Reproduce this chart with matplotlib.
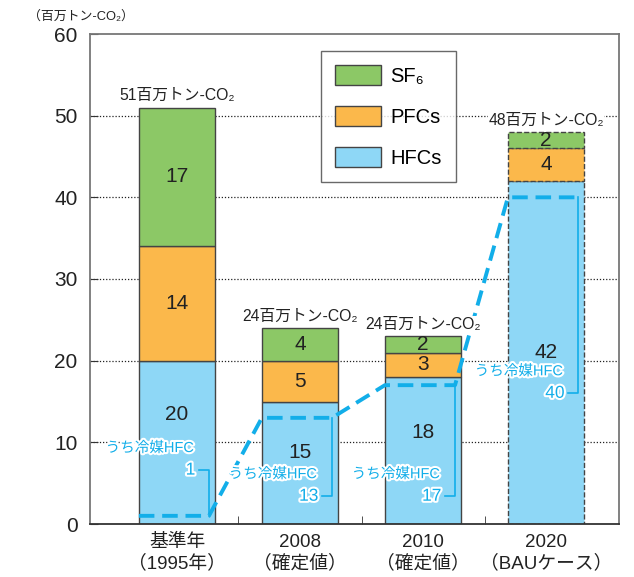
import matplotlib
matplotlib.use("Agg")
from matplotlib import pyplot as plt
from matplotlib.patches import Patch
import matplotlib.patheffects as pe
import numpy as np

plt.rcParams['font.family'] = ['Liberation Sans', 'Noto Sans CJK JP', 'DejaVu Sans']

# data
categories = ['基準年\n（1995年）', '2008\n（確定値）', '2010\n（確定値）', '2020\n（BAUケース）']
hfcs = [20, 15, 18, 42]
pfcs = [14, 5, 3, 4]
sf6 = [17, 4, 2, 2]
total_labels = ['51百万トン-CO₂', '24百万トン-CO₂', '24百万トン-CO₂', '48百万トン-CO₂']
refrig_hfc = [1, 13, 17, 40]

# colours
c_sf6 = '#8cc866'
c_pfc = '#fbb84b'
c_hfc = '#8ed7f6'
c_line = '#12aee9'
c_edge = '#444444'

fig = plt.figure(figsize=(6.34, 5.77), dpi=100)
ax = fig.add_axes([90/634, 1-524/577, (619-90)/634, (524-34)/577])

x = np.arange(len(categories))
width = 0.62

# grid lines
for g in [10, 20, 30, 40, 50]:
    ax.axhline(g, color='#222222', lw=0.9, ls=(0, (1, 1.5)), zorder=0)

hfcs_a = np.array(hfcs)
pfcs_a = np.array(pfcs)
sf6_a = np.array(sf6)
totals = hfcs_a + pfcs_a + sf6_a

for i in range(len(x)):
    ls = '--' if i == 3 else '-'
    ax.bar(x[i], hfcs_a[i], width, color=c_hfc, edgecolor=c_edge, lw=1.0, ls=ls, zorder=2)
    ax.bar(x[i], pfcs_a[i], width, bottom=hfcs_a[i], color=c_pfc, edgecolor=c_edge, lw=1.0, ls=ls, zorder=2)
    ax.bar(x[i], sf6_a[i], width, bottom=hfcs_a[i]+pfcs_a[i], color=c_sf6, edgecolor=c_edge, lw=1.0, ls=ls, zorder=2)

# segment values
hfc_label_y = [13.4, 8.8, 11.2, 21]
for i in range(len(x)):
    ax.text(x[i], hfc_label_y[i], str(hfcs[i]), ha='center', va='center', fontsize=15, color='#222222', zorder=5)
    ax.text(x[i], hfcs[i] + pfcs[i]/2, str(pfcs[i]), ha='center', va='center', fontsize=15, color='#222222', zorder=5)
    ax.text(x[i], hfcs[i] + pfcs[i] + sf6[i]/2, str(sf6[i]), ha='center', va='center', fontsize=15, color='#222222', zorder=5)
    ax.annotate(total_labels[i], (x[i], totals[i]), xytext=(0, 3), textcoords='offset points',
                ha='center', va='bottom', fontsize=11.3, color='#222222', zorder=5,
                bbox=dict(facecolor='white', edgecolor='none', pad=0.5))

# refrigerant HFC dashed line
bx = 0.26
lx, ly = [], []
for i in range(len(x)):
    lx += [x[i] - width/2, x[i] + bx]
    ly += [refrig_hfc[i], refrig_hfc[i]]
ax.plot(lx, ly, color=c_line, lw=2.8, ls=(0, (4, 2)), zorder=3, solid_capstyle='butt')

# brackets and labels
stroke = [pe.Stroke(linewidth=3, foreground='white'), pe.Normal()]
num_y = [6.6, 3.4, 3.4, 16.0]
for i in range(len(x)):
    xb = x[i] + bx
    ax.plot([xb - 0.08, xb, xb], [num_y[i], num_y[i], refrig_hfc[i]], color=c_line, lw=1.2, zorder=3)
    ax.text(xb - 0.11, num_y[i], str(refrig_hfc[i]), ha='right', va='center', fontsize=12.5,
            color=c_line, zorder=6, path_effects=stroke)
    ax.text(xb - 0.12, num_y[i] + 2.7, 'うち冷媒HFC', ha='right', va='center', fontsize=10.5,
            color=c_line, zorder=6, path_effects=stroke)

ax.set_xlim(-0.707, 3.593)
ax.set_ylim(0, 60)
ax.set_yticks(range(0, 61, 10))
ax.set_xticks(x)
ax.set_xticklabels(categories, fontsize=13.5, color='#222222', linespacing=1.25)
ax.set_xticks([0.5, 1.5, 2.5], minor=True)
ax.tick_params(axis='x', which='major', length=0, pad=7)
ax.tick_params(axis='x', which='minor', direction='in', length=6, color='#333333')
ax.tick_params(axis='y', direction='in', length=6, labelsize=15, labelcolor='#222222', color='#333333', pad=9)
for s in ax.spines.values():
    s.set_color('#777777')
    s.set_linewidth(1.3)
ax.spines['bottom'].set_color('#333333')

handles = [Patch(facecolor=c_sf6, edgecolor=c_edge, label='SF₆'),
           Patch(facecolor=c_pfc, edgecolor=c_edge, label='PFCs'),
           Patch(facecolor=c_hfc, edgecolor=c_edge, label='HFCs')]
leg = ax.legend(handles=handles, loc='upper left', bbox_to_anchor=((321-90)/529, (524-51)/490),
                fontsize=14.5, frameon=True, fancybox=False, edgecolor='#444444',
                handlelength=2.3, handleheight=1.15, labelspacing=1.0, borderpad=0.7,
                handletextpad=0.45, borderaxespad=0)
leg.get_frame().set_linewidth(1.0)
leg.set_zorder(7)

fig.text(28/634, 1-17/577, '（百万トン-CO₂）', ha='left', va='center', fontsize=9.3, color='#222222')

fig.savefig('out.png', dpi=100)
